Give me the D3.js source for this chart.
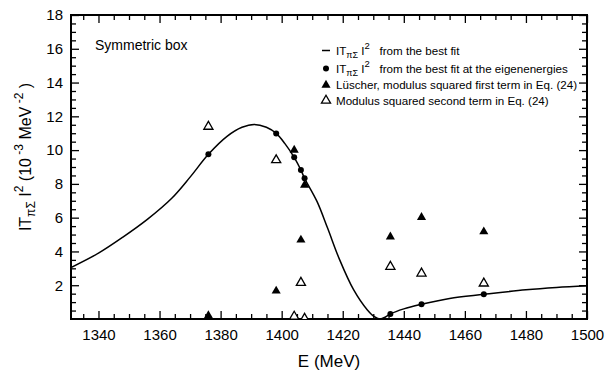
<!DOCTYPE html>
<html>
<head>
<meta charset="utf-8">
<script src="https://cdn.jsdelivr.net/npm/d3@7"></script>
<style>
  body { margin: 0; background: #fff; }
  text { font-family: "Liberation Sans", Arial, Helvetica, sans-serif; fill: #000; }
</style>
</head>
<body>
<script>
// curve |T_piSigma|^2 from the best fit
var fitE = [1331, 1340, 1348, 1356, 1364, 1370, 1376, 1382, 1387, 1391, 1395, 1398.2, 1401, 1404.1, 1406.3, 1407.5, 1411.6, 1415, 1419, 1423.5, 1428, 1430.5, 1432.3, 1434, 1435.6, 1440, 1445.8, 1455, 1466.2, 1480, 1490, 1500];
var fitV = [3.05, 3.9, 4.85, 5.9, 7.15, 8.4, 9.75, 10.8, 11.35, 11.52, 11.35, 10.99, 10.4, 9.57, 8.82, 8.33, 6.95, 5.4, 3.5, 1.75, 0.55, 0.12, 0.0, 0.12, 0.30, 0.6, 0.87, 1.22, 1.46, 1.73, 1.87, 1.97];

// eigenenergies
var eigenE = [1376, 1398.2, 1404.1, 1406.3, 1407.5, 1435.6, 1445.8, 1466.2];
var dotV = [9.75, 10.99, 9.57, 8.82, 8.33, 0.30, 0.87, 1.46];
var firstTermV = [0.2, 1.66, 10.0, 4.68, 7.93, 4.87, 6.02, 5.17];
var secondTermV = [11.39, 9.41, 0.15, 2.15, 0.02, 3.10, 2.70, 2.11];

var xTicks = [1340, 1360, 1380, 1400, 1420, 1440, 1460, 1480, 1500];
var yTicks = [2, 4, 6, 8, 10, 12, 14, 16, 18];

var width = 605, height = 375;
var pLeft = 71, pRight = 587, pTop = 15, pBottom = 319;

var svg = d3.select("body").append("svg")
    .attr("width", width)
    .attr("height", height);

var x = d3.scaleLinear().domain([1331, 1500]).range([pLeft, pRight]);
var y = d3.scaleLinear().domain([0, 18]).range([pBottom, pTop]);

svg.append("clipPath").attr("id", "clip")
  .append("rect")
    .attr("x", pLeft).attr("y", pTop)
    .attr("width", pRight - pLeft).attr("height", pBottom - pTop);

var xMinor = d3.range(1335, 1501, 5).filter(function(d){ return xTicks.indexOf(d) < 0; });
var yMinor = d3.range(0.5, 18, 0.5).filter(function(d){ return d % 2 !== 0; });

// bottom axis with labels
svg.append("g")
    .attr("transform", "translate(0," + pBottom + ")")
    .call(d3.axisBottom(x).tickValues(xTicks).tickSize(-8).tickPadding(10).tickFormat(d3.format("d")));
svg.append("g")
    .attr("transform", "translate(0," + pBottom + ")")
    .call(d3.axisBottom(x).tickValues(xMinor).tickSize(-5).tickFormat(""));
// top axis
svg.append("g")
    .attr("transform", "translate(0," + pTop + ")")
    .call(d3.axisTop(x).tickValues(xTicks).tickSize(-8).tickFormat(""));
svg.append("g")
    .attr("transform", "translate(0," + pTop + ")")
    .call(d3.axisTop(x).tickValues(xMinor).tickSize(-5).tickFormat(""));
// left axis with labels
svg.append("g")
    .attr("transform", "translate(" + pLeft + ",0)")
    .call(d3.axisLeft(y).tickValues(yTicks).tickSize(-8).tickPadding(8));
svg.append("g")
    .attr("transform", "translate(" + pLeft + ",0)")
    .call(d3.axisLeft(y).tickValues(yMinor).tickSize(-5).tickFormat(""));
// right axis
svg.append("g")
    .attr("transform", "translate(" + pRight + ",0)")
    .call(d3.axisRight(y).tickValues(yTicks).tickSize(-8).tickFormat(""));
svg.append("g")
    .attr("transform", "translate(" + pRight + ",0)")
    .call(d3.axisRight(y).tickValues(yMinor).tickSize(-5).tickFormat(""));

svg.selectAll(".domain").remove();
svg.selectAll(".tick line").attr("stroke", "#000").attr("stroke-width", 1.3);
svg.selectAll(".tick text")
    .style("font-family", '"Liberation Sans", Arial, sans-serif')
    .style("font-size", "15px")
    .attr("fill", "#000");

// frame
svg.append("rect")
    .attr("x", pLeft).attr("y", pTop)
    .attr("width", pRight - pLeft).attr("height", pBottom - pTop)
    .attr("fill", "none").attr("stroke", "#000").attr("stroke-width", 2);

// curve
var line = d3.line()
    .x(function(d, i){ return x(fitE[i]); })
    .y(function(d){ return y(d); })
    .curve(d3.curveCatmullRom.alpha(0.5));

var plot = svg.append("g").attr("clip-path", "url(#clip)");

plot.append("path")
    .datum(fitV)
    .attr("d", line)
    .attr("fill", "none")
    .attr("stroke", "#000")
    .attr("stroke-width", 1.5);

var tri = d3.symbol().type(d3.symbolTriangle).size(36);

plot.selectAll(".dot")
    .data(dotV)
    .enter().append("circle")
    .attr("class", "dot")
    .attr("cx", function(d, i){ return x(eigenE[i]); })
    .attr("cy", function(d){ return y(d); })
    .attr("r", 3)
    .attr("fill", "#000");

plot.selectAll(".first")
    .data(firstTermV)
    .enter().append("path")
    .attr("class", "first")
    .attr("d", tri)
    .attr("transform", function(d, i){ return "translate(" + x(eigenE[i]) + "," + y(d) + ")"; })
    .attr("fill", "#000");

plot.selectAll(".second")
    .data(secondTermV)
    .enter().append("path")
    .attr("class", "second")
    .attr("d", tri)
    .attr("transform", function(d, i){ return "translate(" + x(eigenE[i]) + "," + y(d) + ")"; })
    .attr("fill", "#fff")
    .attr("stroke", "#000")
    .attr("stroke-width", 1.3);

// inset text
svg.append("text")
    .attr("x", 95).attr("y", 50)
    .style("font-size", "14px")
    .text("Symmetric box");

// legend
var lg = svg.append("g").style("font-size", "11.6px");
var lgX = 326, txtX = 336;
var rows = [55, 73, 89, 104.5];

lg.append("line")
    .attr("x1", lgX - 4).attr("x2", lgX + 4)
    .attr("y1", rows[0] - 4.5).attr("y2", rows[0] - 4.5)
    .attr("stroke", "#000").attr("stroke-width", 1.5);
lg.append("circle").attr("cx", lgX).attr("cy", rows[1] - 4.5).attr("r", 3).attr("fill", "#000");
lg.append("path").attr("d", tri).attr("transform", "translate(" + lgX + "," + (rows[2] - 4) + ")").attr("fill", "#000");
lg.append("path").attr("d", tri).attr("transform", "translate(" + lgX + "," + (rows[3] - 4) + ")")
    .attr("fill", "#fff").attr("stroke", "#000").attr("stroke-width", 1.3);

function tLabel(g, xx, yy, tail) {
    var t = g.append("text").attr("x", xx).attr("y", yy);
    t.append("tspan").text("IT");
    t.append("tspan").attr("dy", 3).style("font-size", "9px").text("\u03c0\u03a3");
    t.append("tspan").attr("dy", -3).text(" I");
    t.append("tspan").attr("dy", -6).style("font-size", "9.5px").text("2");
    t.append("tspan").attr("dy", 6).attr("xml:space", "preserve").text("   " + tail);
}
tLabel(lg, txtX, rows[0], "from the best fit");
tLabel(lg, txtX, rows[1], "from the best fit at the eigenenergies");
lg.append("text").attr("x", txtX).attr("y", rows[2]).text("L\u00fcscher, modulus squared first term in Eq. (24)");
lg.append("text").attr("x", txtX).attr("y", rows[3]).text("Modulus squared second term in Eq. (24)");

// axis titles
svg.append("text")
    .attr("x", (pLeft + pRight) / 2).attr("y", 367)
    .attr("text-anchor", "middle")
    .style("font-size", "17px")
    .text("E (MeV)");

var yl = svg.append("text")
    .attr("transform", "translate(31,157) rotate(-90)")
    .attr("text-anchor", "middle")
    .style("font-size", "16px");
yl.append("tspan").text("IT");
yl.append("tspan").attr("dy", 4).style("font-size", "12px").text("\u03c0\u03a3");
yl.append("tspan").attr("dy", -4).text(" I");
yl.append("tspan").attr("dy", -8).style("font-size", "12px").text("2");
yl.append("tspan").attr("dy", 8).text(" (10");
yl.append("tspan").attr("dy", -8).style("font-size", "12px").text(" -3");
yl.append("tspan").attr("dy", 8).text(" MeV");
yl.append("tspan").attr("dy", -8).style("font-size", "12px").text(" -2");
yl.append("tspan").attr("dy", 8).text(" )");
</script>
</body>
</html>
